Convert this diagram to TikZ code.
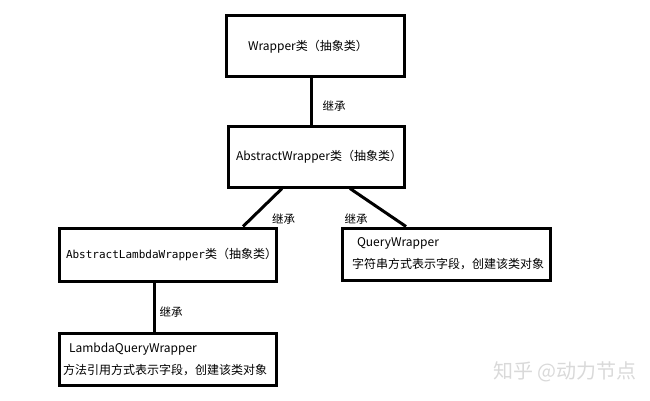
\documentclass[tikz,border=0pt]{standalone}
\usepackage{fontspec}
\setmainfont{Noto Sans CJK SC}
\newfontfamily\codefont{DejaVu Sans Mono}
\usetikzlibrary{positioning}

\begin{document}
\begin{tikzpicture}[x=1pt,y=-1pt,
    box/.style={rectangle,draw,line width=3pt,align=left,inner ysep=0pt,font=\fontsize{12}{22}\selectfont},
    link/.style={line width=3pt},
    lbl/.style={font=\fontsize{11.5}{13}\selectfont,inner sep=1pt}]
  \useasboundingbox (0,0) rectangle (650,401);
  \path
  (315,46.5) node(wrapper) [box,text width=134pt,inner xsep=22pt,minimum height=61pt] {Wrapper类（抽象类）}
  (316,157) node(abstract) [box,align=center,text width=160pt,inner xsep=8pt,minimum height=60pt] {AbstractWrapper类（抽象类）}
  (167.5,254.5) node(lambda) [box,text width=203pt,inner xsep=7pt,minimum height=53pt] {{\codefont\fontsize{11}{13}\selectfont AbstractLambdaWrapper}类（抽象类）}
  (167.5,359) node(lqw) [box,text width=209pt,inner xsep=4pt,minimum height=52pt] {\hspace*{6pt}LambdaQueryWrapper\\方法引用方式表示字段，创建该类对象}
  (446,254) node(qw) [box,text width=188pt,inner xsep=10pt,minimum height=52pt] {\hspace*{5pt}QueryWrapper\\字符串方式表示字段，创建该类对象};
  % watermark
  \node (mark) [text=gray!30,font=\fontsize{20}{24}\selectfont] at (565,372) {知乎 @动力节点};
  \draw
  ([xshift=-4pt]wrapper.south) edge[link] node[lbl,right=9pt,yshift=-4pt] {继承} ([xshift=-4pt]wrapper.south |- abstract.north)
  ([xshift=-34pt]abstract.south) edge[link] node[lbl,below right=4pt and 7pt] {继承} ([xshift=75.5pt]lambda.north)
  ([xshift=34pt]abstract.south) edge[link] node[lbl,below left=4pt and 8pt] {继承} ([xshift=-40pt]qw.north)
  ([xshift=-13.5pt]lambda.south) edge[link] node[lbl,right=3pt,yshift=-5pt] {继承} ([xshift=-13.5pt]lqw.north);
\end{tikzpicture}
\end{document}
